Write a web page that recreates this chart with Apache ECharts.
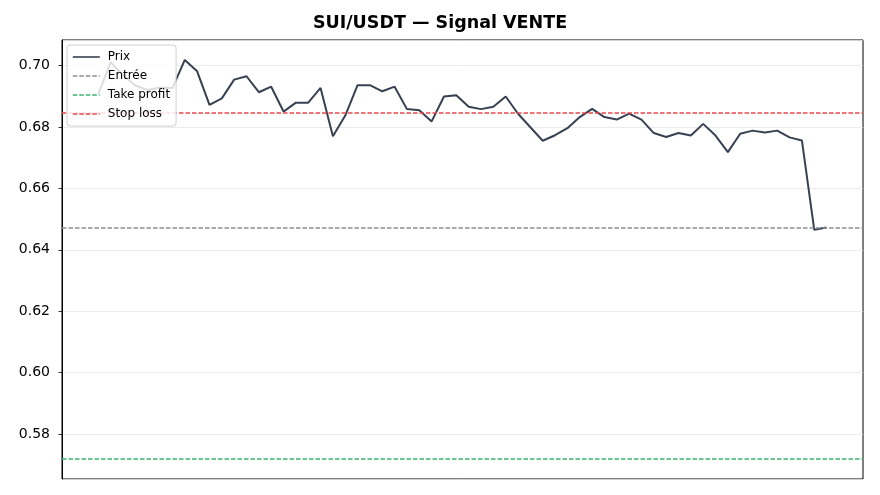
<!DOCTYPE html>
<html>
<head>
<meta charset="utf-8">
<script src="https://cdn.jsdelivr.net/npm/echarts@6/dist/echarts.min.js"></script>
<style>
html,body{margin:0;padding:0;background:#fff;}
#chart{width:880px;height:495px;}
</style>
</head>
<body>
<div id="chart"></div>
<script>
const title = 'SUI/USDT — Signal VENTE';
const prix = [
  0.6908, 0.7011, 0.6968, 0.6935, 0.6920, 0.6928, 0.6927, 0.7018, 0.6981, 0.6872,
  0.6893, 0.6954, 0.6965, 0.6913, 0.6931, 0.6850, 0.6879, 0.6879, 0.6927, 0.6770,
  0.6837, 0.6936, 0.6936, 0.6916, 0.6931, 0.6858, 0.6854, 0.6818, 0.6899, 0.6903,
  0.6866, 0.6858, 0.6866, 0.6899, 0.6843, 0.6799, 0.6755, 0.6773, 0.6796, 0.6832,
  0.6859, 0.6832, 0.6824, 0.6843, 0.6824, 0.6780, 0.6767, 0.6780, 0.6772, 0.6810,
  0.6772, 0.6718, 0.6778, 0.6788, 0.6782, 0.6788, 0.6766, 0.6756, 0.6465, 0.6473
];
const entree = 0.6473;
const takeProfit = 0.5719;
const stopLoss = 0.6845;
const seriesNames = ['Prix', 'Entrée', 'Take profit', 'Stop loss'];
const yTickStep = 0.02;

const n = prix.length;
const xMargin = (n - 1) * 0.05;
const allVals = prix.concat([entree, takeProfit, stopLoss]);
const yLo = Math.min(...allVals), yHi = Math.max(...allVals);
const yMargin = (yHi - yLo) * 0.05;

const chart = echarts.init(document.getElementById('chart'), null, {renderer: 'canvas'});
const FONT = 'DejaVu Sans';

function levelSeries(name, value, color) {
  return {
    name: name,
    type: 'line',
    data: [],
    symbol: 'none',
    color: color,
    z: 1,
    lineStyle: {color: color, width: 1.5, type: [4.5, 2]},
    markLine: {
      silent: true,
      precision: 6,
      symbol: ['none', 'none'],
      label: {show: false},
      lineStyle: {color: color, width: 1.5, type: [4.5, 2]},
      data: [{yAxis: value}]
    }
  };
}

chart.setOption({
  animation: false,
  backgroundColor: '#fff',
  title: {
    text: title,
    left: 'center',
    top: 14,
    padding: [0, 0, 0, 45],
    textStyle: {fontFamily: FONT, fontSize: 17.5, fontWeight: 'bold', color: '#000'}
  },
  grid: {
    left: 62, right: 17, top: 40, bottom: 16,
    show: true, borderColor: '#000', borderWidth: 1, backgroundColor: 'transparent'
  },
  legend: {
    orient: 'vertical',
    left: 67, top: 45,
    z: 10,
    padding: [6, 6, 6, 5],
    itemWidth: 27, itemHeight: 12, itemGap: 7,
    backgroundColor: 'rgba(255,255,255,0.82)',
    borderColor: '#d0d0d0', borderWidth: 1, borderRadius: 3,
    itemStyle: {opacity: 0},
    lineStyle: {width: 1.6},
    textStyle: {fontFamily: FONT, fontSize: 12, color: '#000', padding: [0, 0, 0, 3]},
    data: seriesNames
  },
  xAxis: {
    type: 'value',
    min: -xMargin, max: n - 1 + xMargin,
    axisLine: {show: false},
    axisTick: {show: false},
    axisLabel: {show: false},
    splitLine: {show: false}
  },
  yAxis: {
    type: 'value',
    min: yLo - yMargin, max: yHi + yMargin,
    splitNumber: 7,
    axisLine: {show: true, onZero: false, lineStyle: {color: '#000', width: 1}},
    axisTick: {show: true, length: 3.5, lineStyle: {color: '#000', width: 0.8}},
    axisLabel: {
      showMinLabel: false, showMaxLabel: false,
      margin: 12,
      fontFamily: FONT, fontSize: 14, color: '#000',
      formatter: function (v) {
        const k = v / yTickStep;
        if (Math.abs(k - Math.round(k)) > 1e-6) return '';
        return v.toFixed(2);
      }
    },
    splitLine: {show: true, lineStyle: {color: '#e6e6e6', width: 0.8}}
  },
  series: [
    {
      name: 'Prix',
      type: 'line',
      data: prix.map((v, i) => [i, v]),
      symbol: 'none',
      color: '#374151',
      z: 2,
      lineStyle: {color: '#374151', width: 2}
    },
    levelSeries('Entrée', entree, '#8b8f9b'),
    levelSeries('Take profit', takeProfit, '#3cb46e'),
    levelSeries('Stop loss', stopLoss, '#e5484d')
  ]
});
</script>
</body>
</html>
